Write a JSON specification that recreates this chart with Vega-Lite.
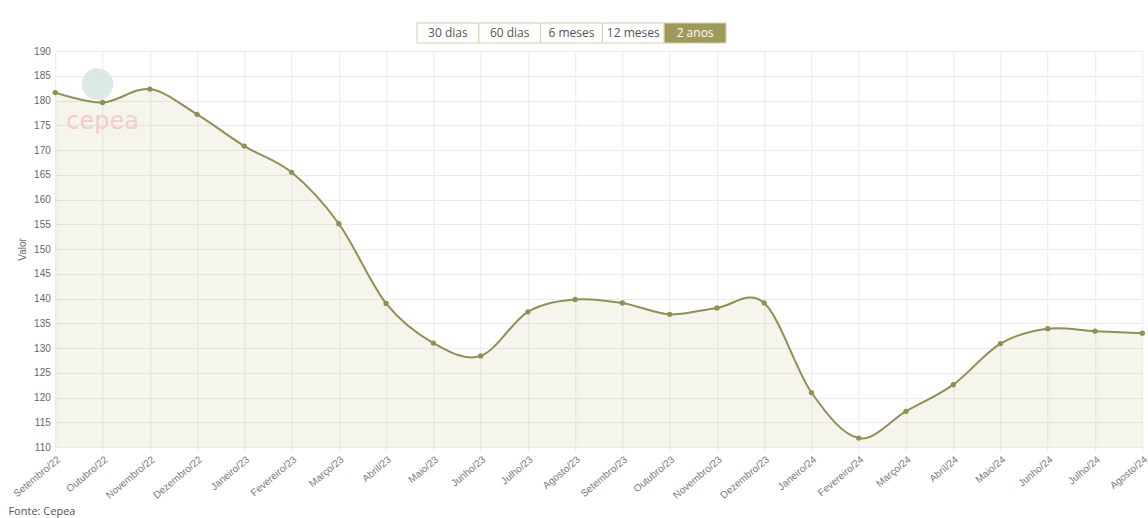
{
  "$schema": "https://vega.github.io/schema/vega-lite/v6.json",
  "padding": {"left": 8, "top": 22, "right": 0, "bottom": 0},
  "background": "white",
  "title": {"text": "Fonte: Cepea", "orient": "bottom", "anchor": "start", "font": "Open Sans", "fontSize": 11, "fontWeight": "normal", "color": "#555555", "offset": 6, "dx": -3},
  "config": {
    "view": {"stroke": null},
    "axis": {"labelFont": "Liberation Sans", "titleFont": "Liberation Sans", "labelColor": "#666666", "titleColor": "#666666", "gridColor": "#ebebeb", "tickColor": "#ebebeb", "domain": false}
  },
  "spacing": 2,
  "center": true,
  "vconcat": [
    {
      "width": 370,
      "height": 20,
      "data": {"values": [
        {"botao": "30 dias", "ativo": false},
        {"botao": "60 dias", "ativo": false},
        {"botao": "6 meses", "ativo": false},
        {"botao": "12 meses", "ativo": false},
        {"botao": "2 anos", "ativo": true}
      ]},
      "encoding": {
        "x": {"field": "botao", "type": "nominal", "sort": null, "axis": null, "scale": {"paddingInner": 0, "paddingOuter": 0.4935, "align": 0}}
      },
      "layer": [
        {
          "mark": {"type": "rect", "stroke": "#d3d0ae", "strokeWidth": 1},
          "encoding": {
            "fill": {"condition": {"test": "datum.ativo", "value": "#9e9a5a"}, "value": "#ffffff"}
          }
        },
        {
          "mark": {"type": "text", "font": "Open Sans", "fontSize": 12, "baseline": "middle"},
          "encoding": {
            "text": {"field": "botao"},
            "color": {"condition": {"test": "datum.ativo", "value": "#ffffff"}, "value": "#555555"}
          }
        }
      ]
    },
    {
      "width": 1087,
      "height": 396,
      "data": {"values": [
        {"mes": "Setembro/22", "valor": 181.6},
        {"mes": "Outubro/22", "valor": 179.6},
        {"mes": "Novembro/22", "valor": 182.3},
        {"mes": "Dezembro/22", "valor": 177.2},
        {"mes": "Janeiro/23", "valor": 170.8},
        {"mes": "Fevereiro/23", "valor": 165.5},
        {"mes": "Março/23", "valor": 155.1},
        {"mes": "Abril/23", "valor": 139.0},
        {"mes": "Maio/23", "valor": 131.0},
        {"mes": "Junho/23", "valor": 128.4},
        {"mes": "Julho/23", "valor": 137.3},
        {"mes": "Agosto/23", "valor": 139.8},
        {"mes": "Setembro/23", "valor": 139.1},
        {"mes": "Outubro/23", "valor": 136.8},
        {"mes": "Novembro/23", "valor": 138.1},
        {"mes": "Dezembro/23", "valor": 139.1},
        {"mes": "Janeiro/24", "valor": 121.0},
        {"mes": "Fevereiro/24", "valor": 111.8},
        {"mes": "Março/24", "valor": 117.2},
        {"mes": "Abril/24", "valor": 122.6},
        {"mes": "Maio/24", "valor": 130.9},
        {"mes": "Junho/24", "valor": 133.9},
        {"mes": "Julho/24", "valor": 133.4},
        {"mes": "Agosto/24", "valor": 133.0}
      ]},
      "encoding": {
        "x": {"field": "mes", "type": "ordinal", "sort": null, "scale": {"type": "point", "padding": 0},
              "axis": {"title": null, "labelAngle": -40, "labelFontSize": 10, "labelColor": "#777777", "grid": true, "tickSize": 5, "labelPadding": 2}},
        "y": {"field": "valor", "type": "quantitative", "scale": {"domain": [110, 190], "zero": false, "nice": false},
              "axis": {"title": "Valor", "values": [110,115,120,125,130,135,140,145,150,155,160,165,170,175,180,185,190], "labelFontSize": 10, "tickSize": 0, "labelPadding": 5, "titleFontSize": 10, "titleFontWeight": "normal", "titlePadding": 6}}
      },
      "layer": [
        {
          "mark": {"type": "area", "interpolate": "cardinal", "color": "#9e9a5a", "opacity": 0.1},
          "encoding": {"y2": {"datum": 110}}
        },
        {
          "transform": [{"filter": "datum.mes == 'Outubro/22'"}],
          "mark": {"type": "circle", "color": "#d3e4e1", "size": 1000, "opacity": 0.8, "xOffset": -5},
          "encoding": {"y": {"datum": 183.3, "type": "quantitative"}}
        },
        {
          "transform": [{"filter": "datum.mes == 'Outubro/22'"}],
          "mark": {"type": "text", "text": "cepea", "font": "DejaVu Sans", "fontSize": 24, "color": "#f2cdc9", "baseline": "middle", "align": "center"},
          "encoding": {"y": {"datum": 175.6, "type": "quantitative"}}
        },
        {
          "mark": {"type": "line", "interpolate": "cardinal", "color": "#918f52", "strokeWidth": 2},
          "encoding": {}
        },
        {
          "mark": {"type": "circle", "color": "#8f9152", "size": 28, "opacity": 1},
          "encoding": {}
        }
      ]
    }
  ]
}
